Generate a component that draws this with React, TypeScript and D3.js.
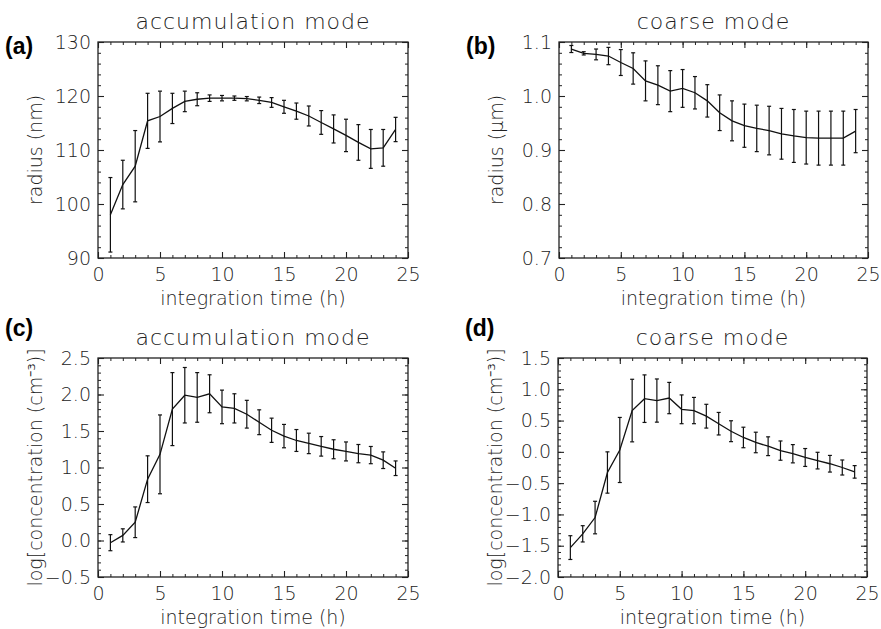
import React, { useEffect, useRef } from "react";
import * as d3 from "d3";

// integration time (h) of each retrieval
const hours = [1, 2, 3, 4, 5, 6, 7, 8, 9, 10, 11, 12, 13, 14, 15, 16, 17, 18, 19, 20, 21, 22, 23, 24];

// (a) accumulation mode radius (nm)
const accRadius = [98.0, 103.6, 107.0, 115.4, 116.2, 117.7, 119.0, 119.4, 119.6, 119.6, 119.6, 119.5, 119.2, 118.8, 118.0, 117.2, 116.3, 115.1, 113.9, 112.7, 111.4, 110.2, 110.4, 113.8];
const accRadiusErr = [6.9, 4.5, 6.6, 5.1, 4.7, 2.8, 1.9, 1.2, 0.6, 0.5, 0.4, 0.4, 0.6, 0.9, 1.2, 1.5, 1.85, 2.2, 2.6, 3.0, 3.3, 3.6, 3.4, 2.25];

// (b) coarse mode radius (um)
const coarseRadius = [1.087, 1.079, 1.077, 1.074, 1.062, 1.051, 1.028, 1.02, 1.009, 1.014, 1.006, 0.991, 0.969, 0.954, 0.945, 0.94, 0.936, 0.93, 0.926, 0.923, 0.922, 0.922, 0.922, 0.935];
const coarseRadiusErr = [0.0065, 0.003, 0.01, 0.016, 0.024, 0.029, 0.037, 0.036, 0.038, 0.035, 0.03, 0.03, 0.033, 0.037, 0.04, 0.043, 0.045, 0.047, 0.049, 0.049, 0.05, 0.05, 0.05, 0.04];

// (c) accumulation mode log concentration
const accConc = [-0.03, 0.07, 0.25, 0.84, 1.18, 1.8, 1.99, 1.96, 2.01, 1.83, 1.81, 1.73, 1.62, 1.51, 1.43, 1.37, 1.33, 1.29, 1.25, 1.22, 1.19, 1.17, 1.1, 0.99];
const accConcErr = [0.11, 0.09, 0.21, 0.32, 0.54, 0.5, 0.38, 0.34, 0.26, 0.23, 0.2, 0.19, 0.17, 0.166, 0.16, 0.15, 0.14, 0.134, 0.13, 0.13, 0.125, 0.118, 0.114, 0.1];

// (d) coarse mode log concentration
const coarseConc = [-1.53, -1.31, -1.05, -0.33, 0.03, 0.66, 0.85, 0.82, 0.86, 0.68, 0.66, 0.57, 0.45, 0.33, 0.23, 0.15, 0.09, 0.02, -0.03, -0.09, -0.14, -0.19, -0.25, -0.32];
const coarseConcErr = [0.19, 0.13, 0.26, 0.33, 0.52, 0.5, 0.38, 0.345, 0.25, 0.23, 0.21, 0.19, 0.18, 0.167, 0.164, 0.164, 0.15, 0.154, 0.146, 0.143, 0.133, 0.133, 0.12, 0.1];

const xTicks = [0, 5, 10, 15, 20, 25];
const accRadiusTicks = [90, 100, 110, 120, 130];
const coarseRadiusTicks = [0.7, 0.8, 0.9, 1.0, 1.1];
const accConcTicks = [-0.5, 0.0, 0.5, 1.0, 1.5, 2.0, 2.5];
const coarseConcTicks = [-2.0, -1.5, -1.0, -0.5, 0.0, 0.5, 1.0, 1.5];

const FONT = "DejaVu Sans";
const INK = "#222";

type Panel = {
  letter: string;
  title: string;
  yLabel: string;
  values: number[];
  errs: number[];
  yTicks: number[];
  yMinor: number;
  yFormat: (v: number) => string;
  left: number;
  top: number;
  width: number;
  height: number;
};

const panels: Panel[] = [
  {
    letter: "(a)", title: "accumulation mode", yLabel: "radius (nm)",
    values: accRadius, errs: accRadiusErr, yTicks: accRadiusTicks, yMinor: 2,
    yFormat: d3.format("d"), left: 98, top: 42, width: 310, height: 216,
  },
  {
    letter: "(b)", title: "coarse mode", yLabel: "radius (μm)",
    values: coarseRadius, errs: coarseRadiusErr, yTicks: coarseRadiusTicks, yMinor: 0.02,
    yFormat: d3.format(".1f"), left: 559, top: 42, width: 309, height: 216,
  },
  {
    letter: "(c)", title: "accumulation mode", yLabel: "log[concentration (cm⁻³)]",
    values: accConc, errs: accConcErr, yTicks: accConcTicks, yMinor: 0.1,
    yFormat: d3.format(".1f"), left: 98, top: 358, width: 310, height: 219,
  },
  {
    letter: "(d)", title: "coarse mode", yLabel: "log[concentration (cm⁻³)]",
    values: coarseConc, errs: coarseConcErr, yTicks: coarseConcTicks, yMinor: 0.1,
    yFormat: d3.format(".1f"), left: 558, top: 358, width: 309, height: 219,
  },
];

function drawPanel(svg: any, p: Panel) {
  const x = d3.scaleLinear().domain([0, 25]).range([p.left, p.left + p.width]);
  const yMin = p.yTicks[0];
  const yMax = p.yTicks[p.yTicks.length - 1];
  const y = d3.scaleLinear().domain([yMin, yMax]).range([p.top + p.height, p.top]);
  const bottom = p.top + p.height;
  const right = p.left + p.width;

  const g = svg.append("g");

  const xMinor = d3.range(0, 25.001, 1);
  const nMinor = Math.round((yMax - yMin) / p.yMinor);
  const yMinorVals = d3.range(nMinor + 1).map((i) => yMin + i * p.yMinor);

  // minor ticks on all four sides
  const minor = [
    { axis: d3.axisBottom(x).tickValues(xMinor), t: `translate(0,${bottom})` },
    { axis: d3.axisTop(x).tickValues(xMinor), t: `translate(0,${p.top})` },
    { axis: d3.axisLeft(y).tickValues(yMinorVals), t: `translate(${p.left},0)` },
    { axis: d3.axisRight(y).tickValues(yMinorVals), t: `translate(${right},0)` },
  ];
  minor.forEach((m) => {
    const a = g.append("g").attr("transform", m.t).call(m.axis.tickSize(-3).tickFormat(() => ""));
    a.select(".domain").remove();
    a.selectAll("line").attr("stroke", INK).attr("stroke-width", 1);
  });

  // major ticks
  const xb = g.append("g").attr("transform", `translate(0,${bottom})`)
    .call(d3.axisBottom(x).tickValues(xTicks).tickSize(-6).tickPadding(10).tickFormat(d3.format("d")));
  const xt = g.append("g").attr("transform", `translate(0,${p.top})`)
    .call(d3.axisTop(x).tickValues(xTicks).tickSize(-6).tickFormat(() => ""));
  const yl = g.append("g").attr("transform", `translate(${p.left},0)`)
    .call(d3.axisLeft(y).tickValues(p.yTicks).tickSize(-6).tickPadding(7).tickFormat(p.yFormat));
  const yr = g.append("g").attr("transform", `translate(${right},0)`)
    .call(d3.axisRight(y).tickValues(p.yTicks).tickSize(-6).tickFormat(() => ""));
  [xb, xt, yl, yr].forEach((a) => {
    a.select(".domain").remove();
    a.selectAll("line").attr("stroke", INK).attr("stroke-width", 1.1);
    a.selectAll("text").attr("font-family", FONT).attr("font-weight", 200)
      .attr("font-size", 19).attr("fill", INK);
  });

  g.append("rect")
    .attr("x", p.left).attr("y", p.top).attr("width", p.width).attr("height", p.height)
    .attr("fill", "none").attr("stroke", INK).attr("stroke-width", 1.3);

  // error bars
  const bars = g.append("g").attr("stroke", "#111").attr("stroke-width", 1.2);
  hours.forEach((h, i) => {
    const cx = x(h);
    const y0 = y(p.values[i] - p.errs[i]);
    const y1 = y(p.values[i] + p.errs[i]);
    bars.append("line").attr("x1", cx).attr("x2", cx).attr("y1", y0).attr("y2", y1);
    bars.append("line").attr("x1", cx - 2).attr("x2", cx + 2).attr("y1", y0).attr("y2", y0);
    bars.append("line").attr("x1", cx - 2).attr("x2", cx + 2).attr("y1", y1).attr("y2", y1);
  });

  const line = d3.line<number>().x((_, i) => x(hours[i])).y((d) => y(d));
  g.append("path").datum(p.values).attr("d", line)
    .attr("fill", "none").attr("stroke", "#111").attr("stroke-width", 1.3);

  // texts
  g.append("text")
    .attr("x", (p.left + right) / 2).attr("y", p.top - 13)
    .attr("text-anchor", "middle").attr("font-family", FONT).attr("font-weight", 200)
    .attr("font-size", 22).attr("letter-spacing", 1).attr("fill", INK).text(p.title);

  g.append("text")
    .attr("x", (p.left + right) / 2).attr("y", bottom + 47)
    .attr("text-anchor", "middle").attr("font-family", FONT).attr("font-weight", 200)
    .attr("font-size", 19).attr("fill", INK).text("integration time (h)");

  g.append("text")
    .attr("transform", `translate(${p.left - 56},${(p.top + bottom) / 2}) rotate(-90)`)
    .attr("text-anchor", "middle").attr("font-family", FONT).attr("font-weight", 200)
    .attr("font-size", 19).attr("fill", INK).text(p.yLabel);

  g.append("text")
    .attr("x", p.left - 93).attr("y", p.top < 100 ? 54 : 336)
    .attr("font-family", "Liberation Sans").attr("font-weight", "bold").attr("font-size", 23)
    .attr("fill", "#000").text(p.letter);
}

function App() {
  const ref = useRef<SVGSVGElement>(null);

  useEffect(() => {
    const svg = d3.select(ref.current);
    svg.selectAll("*").remove();
    panels.forEach((p) => drawPanel(svg, p));
  }, []);

  return (
    <svg
      ref={ref}
      width={881}
      height={629}
      style={{ position: "absolute", left: 0, top: 0, background: "#fff" }}
    />
  );
}

export default App;
